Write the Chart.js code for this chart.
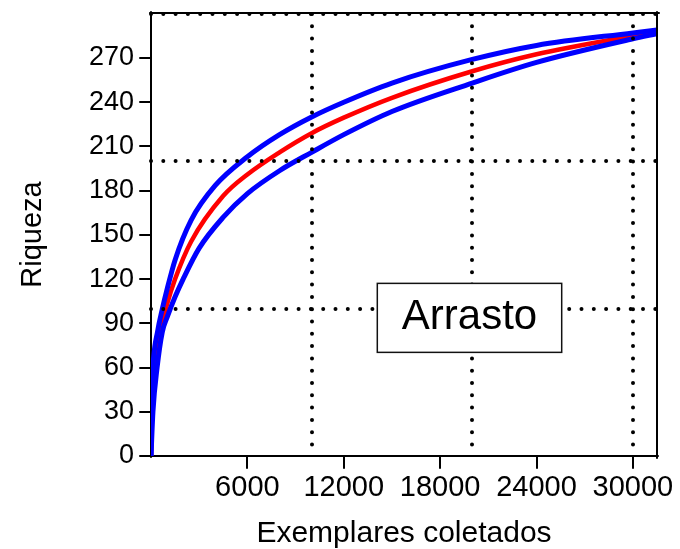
<!DOCTYPE html>
<html><head><meta charset="utf-8">
<script src="https://cdn.jsdelivr.net/npm/chart.js@4.4.1/dist/chart.umd.min.js"></script>
<style>html,body{margin:0;padding:0;background:#fff;}</style>
</head><body>
<canvas id="c" width="680" height="549"></canvas>
<script>
// Sample sizes (Exemplares coletados) and richness (Riqueza)
const upperX = [0, 20, 120, 420, 700, 1000, 1500, 2500, 4000, 6000, 8000, 10000, 12000, 15000, 20000, 24000, 30000, 31500];
const upperY = [0, 30, 60, 85, 99.5, 113, 133, 160, 183.5, 203, 218, 230, 240, 253, 269, 278.5, 287, 289];
const meanX  = [0, 50, 250, 650, 1000, 1500, 2500, 4500, 6000, 8000, 10000, 12000, 15000, 20000, 24000, 30000, 31500];
const meanY  = [0, 30, 60, 88, 103, 120, 145.5, 176.5, 191, 206, 219, 229.5, 243, 261, 272.5, 285, 287.8];
const lowerX = [0, 120, 380, 700, 1000, 1500, 2000, 3000, 4500, 6000, 8000, 10000, 12000, 15000, 20000, 24000, 30000, 31500];
const lowerY = [0, 30, 60, 84, 94, 108, 120, 141, 162, 178, 193.5, 206, 218, 233.7, 253, 267, 283, 286.5];

// Axis ticks and dotted reference lines
const xTicks = [6000, 12000, 18000, 24000, 30000];
const yTicks = [0, 30, 60, 90, 120, 150, 180, 210, 240, 270];
const xRefLines = [10000, 20000, 30000];
const yRefLines = [100, 200, 300];
const boxLabel = 'Arrasto';

const FONT = '"Liberation Sans", Arial, sans-serif';
const pts = (xs, ys) => xs.map((x, i) => ({x: x, y: ys[i]}));
const setTicks = vals => s => { s.ticks = vals.map(v => ({value: v})); };

const roundCap = {
  id: 'roundCap',
  beforeDraw(chart) { chart.ctx.lineCap = 'round'; }
};
const labelBox = {
  id: 'labelBox',
  afterDraw(chart, args, o) {
    const {ctx, scales: {x, y}} = chart;
    const l = x.getPixelForValue(o.x0), r = x.getPixelForValue(o.x1);
    const t = y.getPixelForValue(o.y1), b = y.getPixelForValue(o.y0);
    ctx.save();
    ctx.fillStyle = '#fff';
    ctx.fillRect(l, t, r - l, b - t);
    ctx.lineWidth = 1.5;
    ctx.strokeStyle = '#111';
    ctx.strokeRect(l, t, r - l, b - t);
    ctx.fillStyle = '#000';
    ctx.font = '42px ' + FONT;
    ctx.textAlign = 'center';
    ctx.textBaseline = 'middle';
    ctx.fillText(o.text, (l + r) / 2, (t + b) / 2);
    ctx.restore();
  }
};

new Chart(document.getElementById('c'), {
  type: 'line',
  data: {
    datasets: [
      {label: 'upper', data: pts(upperX, upperY), borderColor: '#0000ff', borderWidth: 5},
      {label: 'lower', data: pts(lowerX, lowerY), borderColor: '#0000ff', borderWidth: 5},
      {label: 'mean', data: pts(meanX, meanY), borderColor: '#ff0000', borderWidth: 4.5}
    ]
  },
  options: {
    responsive: false,
    animation: false,
    devicePixelRatio: 1,
    layout: {padding: {left: 0, right: 23, top: 13, bottom: 0}},
    elements: {
      point: {radius: 0},
      line: {cubicInterpolationMode: 'monotone', fill: false}
    },
    plugins: {
      legend: {display: false},
      tooltip: {enabled: false},
      labelBox: {x0: 14088, x1: 25567, y0: 70.3, y1: 117.1, text: boxLabel}
    },
    scales: {
      x: {
        type: 'linear', position: 'bottom', min: 0, max: 31500,
        afterBuildTicks: setTicks(xTicks),
        ticks: {autoSkip: false, maxRotation: 0, padding: 3,
                color: '#000', font: {family: FONT, size: 29},
                callback: v => String(v)},
        grid: {drawOnChartArea: false, drawTicks: true, tickLength: 12, tickWidth: 2, lineWidth: 2, tickColor: '#000'},
        border: {display: true, color: '#000', width: 2},
        title: {display: true, text: 'Exemplares coletados', color: '#000',
                font: {family: FONT, size: 30, lineHeight: 1}, padding: {top: 0, bottom: 0}},
        afterFit(s) { s.height = 93; s.paddingLeft = 0; s.paddingRight = 0; }
      },
      y: {
        type: 'linear', position: 'left', min: 0, max: 300.5,
        afterBuildTicks: setTicks(yTicks),
        ticks: {autoSkip: false, padding: 6, color: '#000',
                font: {family: FONT, size: 27},
                callback: v => String(v)},
        grid: {drawOnChartArea: false, drawTicks: true, tickLength: 11, tickWidth: 2, lineWidth: 2, tickColor: '#000'},
        border: {display: true, color: '#000', width: 2},
        title: {display: true, text: 'Riqueza', color: '#000',
                font: {family: FONT, size: 29, lineHeight: 1}, padding: {top: 18.5, bottom: 0}},
        afterFit(s) { s.width = 151; s.paddingTop = 0; s.paddingBottom = 0; }
      },
      xg: {
        type: 'linear', position: 'top', min: 0, max: 31500,
        afterBuildTicks: setTicks(xRefLines),
        ticks: {display: false},
        grid: {display: true, drawTicks: false, color: '#000', lineWidth: 4, z: 1},
        border: {display: true, color: '#000', width: 2, dash: [0, 12.3], z: 2},
        afterFit(s) { s.height = 0; s.paddingLeft = 0; s.paddingRight = 0; }
      },
      yg: {
        type: 'linear', position: 'right', min: 0, max: 300.5,
        afterBuildTicks: setTicks(yRefLines),
        ticks: {display: false},
        grid: {display: true, drawTicks: false, color: '#000', lineWidth: 4, z: 1},
        border: {display: true, color: '#000', width: 2, dash: [0, 12.3], z: 2},
        afterFit(s) { s.width = 0; s.paddingTop = 0; s.paddingBottom = 0; }
      }
    }
  },
  plugins: [roundCap, labelBox]
});
</script>
</body></html>
